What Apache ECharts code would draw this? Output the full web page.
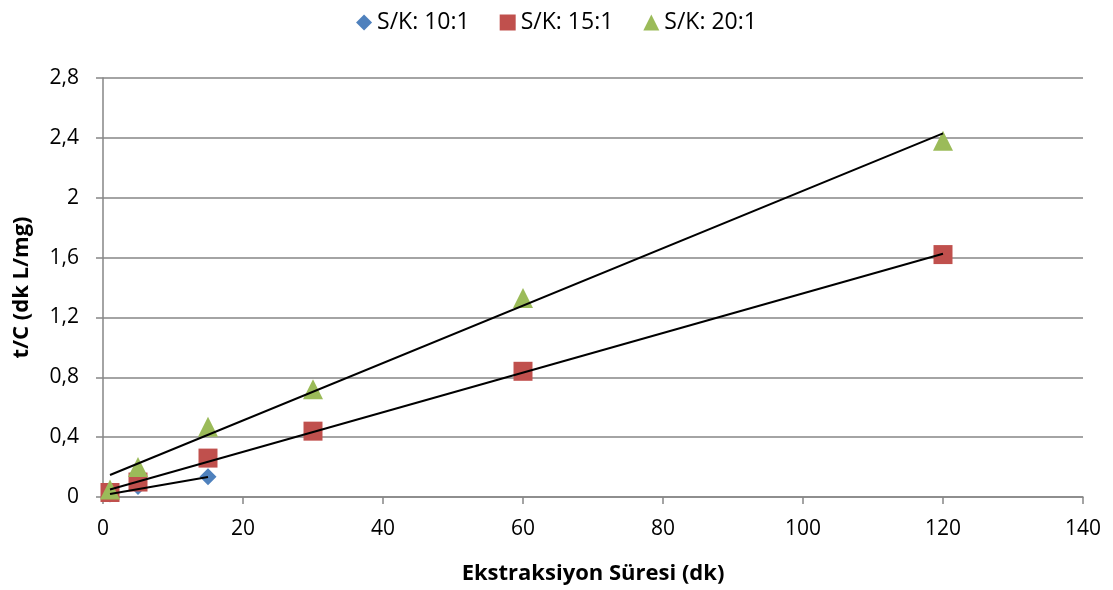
<!DOCTYPE html>
<html><head><meta charset="utf-8">
<script src="https://cdn.jsdelivr.net/npm/echarts@6/dist/echarts.min.js"></script>
<style>html,body{margin:0;padding:0;background:#fff}#c{width:1113px;height:590px}</style>
</head><body><div id="c"></div>
<script>
var xs10 = [1, 5, 15];
var ys10 = [0.02, 0.07, 0.135];
var xs15 = [1, 5, 15, 30, 60, 120];
var ys15 = [0.03, 0.10, 0.26, 0.44, 0.84, 1.62];
var xs20 = [1, 5, 15, 30, 60, 120];
var ys20 = [0.05, 0.20, 0.47, 0.72, 1.33, 2.38];
var trend10 = [[1, 0.02], [15, 0.134]];
var trend15 = [[1, 0.05], [120, 1.625]];
var trend20 = [[1, 0.147], [120, 2.43]];
var names = ['S/K: 10:1', 'S/K: 15:1', 'S/K: 20:1'];
var yTicks = [0, 0.4, 0.8, 1.2, 1.6, 2, 2.4, 2.8];

function pts(xs, ys){ return xs.map(function(x,i){return [x, ys[i]];}); }
var font = '"Open Sans", sans-serif';
var chart = echarts.init(document.getElementById('c'));
function trend(d){
  return {type:'line', data:d, symbol:'none', silent:true, z:5,
    lineStyle:{color:'#000', width:2}, legendHoverLink:false, tooltip:{show:false}};
}
chart.setOption({
  animation:false,
  textStyle:{fontFamily:font},
  legend:{
    top:6, left:'center', itemGap:30, itemWidth:16, itemHeight:16,
    data:[{name:names[0], icon:'diamond'},{name:names[1], icon:'rect'},{name:names[2], icon:'triangle'}],
    itemStyle:{opacity:1},
    textStyle:{fontSize:23, color:'#000', fontFamily:font}
  },
  grid:{left:103, right:30, top:78, bottom:93, containLabel:false},
  xAxis:{
    type:'value', min:0, max:140, interval:20,
    name:'Ekstraksiyon Süresi (dk)', nameLocation:'middle', nameGap:66,
    nameTextStyle:{fontSize:22, fontWeight:'bold', color:'#000', fontFamily:font},
    axisLine:{show:true, onZero:false, lineStyle:{color:'#868686', width:1.5}},
    axisTick:{show:true, length:7, lineStyle:{color:'#868686', width:1.5}},
    axisLabel:{fontSize:21, color:'#000', margin:22, fontFamily:font},
    splitLine:{show:false}
  },
  yAxis:{
    type:'value', min:0, max:2.8, interval:0.4,
    name:'t/C (dk L/mg)', nameLocation:'middle', nameGap:70, nameRotate:90,
    nameTextStyle:{fontSize:22, fontWeight:'bold', color:'#000', fontFamily:font},
    axisLine:{show:true, lineStyle:{color:'#868686', width:1.5}},
    axisTick:{show:true, length:7, lineStyle:{color:'#868686', width:1.5}},
    axisLabel:{fontSize:21, color:'#000', margin:24, fontFamily:font,
      formatter:function(v){
        var t = yTicks.find(function(k){return Math.abs(k-v)<1e-6;});
        return String(t===undefined?v:t).replace('.', ',');
      }},
    splitLine:{show:true, lineStyle:{color:'#868686', width:1.5}}
  },
  series:[
    {name:names[0], type:'scatter', data:pts(xs10, ys10), symbol:'diamond', symbolSize:17, itemStyle:{color:'#4F81BD', opacity:1}, z:2},
    {name:names[1], type:'scatter', data:pts(xs15, ys15), symbol:'rect', symbolSize:19, itemStyle:{color:'#C0504D', opacity:1}, z:3},
    {name:names[2], type:'scatter', data:pts(xs20, ys20), symbol:'triangle', symbolSize:20, itemStyle:{color:'#9BBB59', opacity:1}, z:4},
    trend(trend10), trend(trend15), trend(trend20)
  ]
});
</script></body></html>
